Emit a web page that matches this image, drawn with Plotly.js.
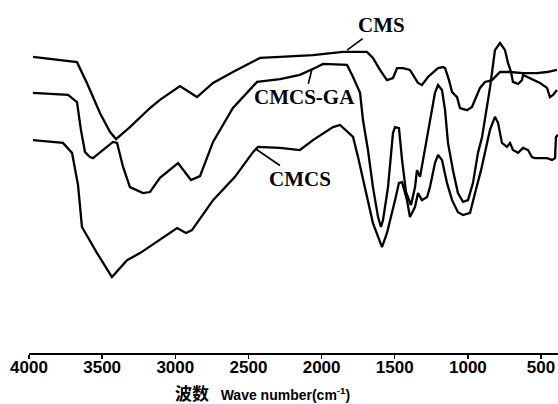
<!DOCTYPE html>
<html>
<head>
<meta charset="utf-8">
<script src="https://cdn.plot.ly/plotly-3.0.1.min.js"></script>
<style>
  html, body { margin: 0; padding: 0; background: #fff; }
  #chart { width: 558px; height: 404px; }
</style>
</head>
<body>
<div id="chart"></div>
<script>
// FTIR spectra, wavenumber (cm-1) vs relative transmittance (arbitrary units, offset per sample)
const cmsWavenumber = [3973, 3720, 3672, 3604, 3515, 3446, 3405, 3310, 3173, 3105, 2968, 2852, 2742, 2606, 2421, 2284,
  2059, 1854, 1690, 1649, 1601, 1553, 1512, 1484, 1443, 1396, 1341, 1314, 1273, 1204, 1170, 1156, 1129, 1108, 1074,
  1054, 1006, 972, 951, 917, 883, 835, 780, 712, 623, 527, 459, 391];
const cmsTransmittance = [83.9, 82.7, 82.4, 76.5, 68.0, 62.6, 60.6, 64.0, 69.4, 71.7, 75.6, 72.5, 76.5, 79.6, 83.6, 83.9,
  84.4, 85.3, 85.3, 83.6, 80.2, 77.3, 77.9, 80.7, 80.7, 80.2, 76.5, 75.9, 78.2, 80.7, 81.0, 80.7, 77.3, 73.9, 72.5,
  69.4, 68.8, 69.7, 71.7, 75.1, 76.8, 77.3, 79.6, 79.6, 79.3, 79.3, 79.6, 80.2];

const cmcsGaWavenumber = [3973, 3733, 3672, 3645, 3617, 3583, 3563, 3426, 3398, 3357, 3310, 3221, 3173, 3105, 2981, 2893,
  2831, 2742, 2606, 2441, 2284, 2148, 2031, 1990, 1826, 1785, 1737, 1717, 1683, 1649, 1614, 1594, 1580, 1546, 1512,
  1498, 1471, 1450, 1423, 1389, 1361, 1348, 1327, 1307, 1279, 1259, 1225, 1204, 1177, 1156, 1136, 1102, 1068, 1033,
  999, 965, 931, 903, 883, 849, 815, 780, 746, 726, 705, 692, 657, 630, 623, 575, 507, 459, 439, 418, 391];
const cmcsGaTransmittance = [73.7, 73.1, 71.1, 63.2, 56.9, 55.5, 55.2, 59.8, 59.5, 52.7, 47.0, 45.3, 45.6, 49.6, 53.8, 49.0,
  50.1, 59.8, 69.4, 76.8, 77.6, 78.8, 81.0, 81.9, 81.6, 78.2, 73.7, 66.0, 57.5, 47.0, 38.5, 35.7, 37.7, 47.0, 62.3,
  64.0, 63.7, 54.7, 45.6, 41.9, 47.0, 51.8, 49.9, 54.7, 61.2, 66.0, 73.7, 75.9, 74.5, 68.8, 59.5, 51.8, 45.3, 42.8,
  43.3, 48.2, 56.7, 61.2, 66.0, 75.1, 85.8, 87.8, 85.8, 82.2, 79.6, 76.8, 76.2, 77.3, 78.8, 77.9, 76.5, 75.1, 72.5, 73.1, 74.5];

const cmcsWavenumber = [3973, 3768, 3706, 3665, 3638, 3535, 3433, 3330, 3241, 3105, 2988, 2927, 2886, 2742, 2592, 2469,
  2435, 2284, 2148, 2059, 1922, 1874, 1785, 1751, 1703, 1649, 1587, 1553, 1498, 1471, 1450, 1416, 1396, 1361, 1341,
  1314, 1279, 1259, 1225, 1204, 1177, 1143, 1108, 1068, 1033, 985, 951, 910, 849, 815, 794, 767, 733, 712, 692, 657,
  623, 589, 562, 541, 459, 425, 404, 398, 384];
const cmcsTransmittance = [60.3, 59.5, 56.7, 47.6, 35.7, 28.3, 21.5, 26.3, 28.3, 32.0, 35.4, 34.0, 34.8, 43.3, 49.9, 56.9,
  58.4, 58.1, 57.5, 60.3, 64.0, 64.6, 61.2, 55.5, 47.0, 36.8, 30.0, 34.0, 43.3, 48.2, 48.4, 43.3, 38.5, 41.4, 45.3,
  43.3, 44.2, 47.0, 53.8, 56.1, 54.7, 48.2, 43.3, 39.9, 39.1, 39.7, 45.3, 51.8, 63.2, 66.9, 65.2, 59.5, 58.4, 59.5, 57.5, 56.7,
  58.1, 57.5, 55.5, 55.2, 55.2, 54.7, 55.2, 61.2, 61.8];

const tickValues = [4000, 3500, 3000, 2500, 2000, 1500, 1000, 500];
const tickLabels = ['4000', '3500', '3000', '2500', '2000', '1500', '1000', '500'];

const sampleNames = ['CMS', 'CMCS-GA', 'CMCS'];

const lineStyle = { color: '#000', width: 2.3, shape: 'linear' };

const traces = [
  { x: cmsWavenumber, y: cmsTransmittance, name: sampleNames[0] },
  { x: cmcsGaWavenumber, y: cmcsGaTransmittance, name: sampleNames[1] },
  { x: cmcsWavenumber, y: cmcsTransmittance, name: sampleNames[2] }
].map(t => Object.assign(t, { type: 'scatter', mode: 'lines', line: lineStyle, hoverinfo: 'skip' }));

const labelFont = { family: '"Liberation Serif", "DejaVu Serif", serif', size: 21, color: '#000', weight: 'bold' };

const labelArrow = { showarrow: true, arrowhead: 0, arrowwidth: 1.6, arrowcolor: '#000', font: labelFont, xref: 'x', yref: 'y' };

const layout = {
  width: 558,
  height: 404,
  margin: { l: 29, r: 0, t: 0, b: 51, pad: 0 },
  paper_bgcolor: '#fff',
  plot_bgcolor: '#fff',
  showlegend: false,
  xaxis: {
    range: [4000, 384],
    showgrid: false,
    zeroline: false,
    showline: true,
    linecolor: '#000',
    linewidth: 2,
    ticks: 'outside',
    ticklen: 4,
    tickwidth: 1.5,
    tickcolor: '#000',
    ticklabelstandoff: -6,
    tickvals: tickValues,
    ticktext: tickLabels,
    tickfont: { family: '"Liberation Sans", Arial, sans-serif', size: 17, color: '#000', weight: 'bold' }
  },
  yaxis: {
    range: [0, 100],
    visible: false,
    showgrid: false,
    zeroline: false
  },
  annotations: [
    Object.assign({ text: sampleNames[0], x: 1826, y: 85.8, ax: 34, ay: -25 }, labelArrow),
    Object.assign({ text: sampleNames[1], x: 2066, y: 80.4, ax: -7, ay: 28 }, labelArrow),
    Object.assign({ text: sampleNames[2], x: 2450, y: 57.8, ax: 44, ay: 30 }, labelArrow),
    {
      text: '<span style="font-size:17px">波数</span>\u00a0\u00a0\u00a0Wave number(cm<sup>-1</sup>)',
      xref: 'paper', yref: 'paper',
      x: 0.4423, y: -0.116,
      xanchor: 'center', yanchor: 'middle',
      showarrow: false,
      font: { family: '"Liberation Sans", "Noto Sans CJK SC", sans-serif', size: 14, color: '#000', weight: 'bold' }
    }
  ]
};

Plotly.newPlot('chart', traces, layout, { staticPlot: true, displayModeBar: false });
</script>
</body>
</html>
